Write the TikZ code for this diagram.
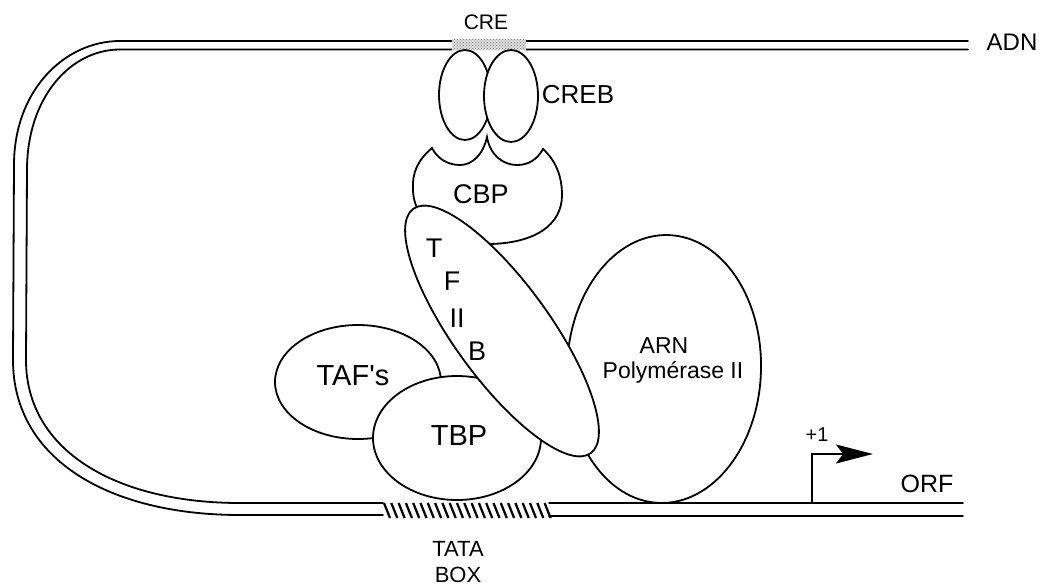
\documentclass[tikz,border=0pt]{standalone}
\usepackage{fontspec}
\setmainfont{Liberation Sans}
\usetikzlibrary{arrows.meta,patterns}
\begin{document}
\begin{tikzpicture}[x=1pt,y=-1pt,
  strand/.style={line width=1.8pt,line cap=round},
  blob/.style={line width=1.8pt,fill=white},
  hatchline/.style={line width=2.3pt},
  lbl/.style={inner sep=0pt,anchor=base,font=\fontsize{#1}{#1}\selectfont},
  lbl/.default=26]
\useasboundingbox (0,0) rectangle (1047,587);

% --- DNA double strand, looping from the top round to the bottom ---
\draw[strand] (968,41) -- (120,41) .. controls (65,41) and (14,90) .. (14,165)
  -- (13,360) .. controls (13,460) and (110,515) .. (240,515) -- (383,515);
\draw[strand] (968,49.5) -- (120,49.5) .. controls (70,49.5) and (27,98) .. (27,170)
  -- (26,360) .. controls (26,450) and (115,503) .. (240,503) -- (383,503);
\draw[strand] (549,503) -- (963,503);
\draw[strand] (549,516) -- (963,516);

% CRE element (stippled)
\fill[white] (452,37) rectangle (526,53);
\fill[gray!25] (452,39) rectangle (526,50);
\fill[pattern=crosshatch dots,pattern color=black!55] (452,39) rectangle (526,50);

% TATA box (hatched)
\foreach \i in {0,...,22} {
  \draw[hatchline] ({384+7.3*\i},503) -- ({390+7.3*\i},518);
}

% --- proteins, from back to front ---
% RNA polymerase II
\draw[blob,rotate around={-2:(664,369)}] (664,369) ellipse (97 and 134);
% TAF's
\draw[blob] (358,382) ellipse (83 and 57);
% TBP
\draw[blob] (457,438) ellipse (84 and 62);
% CBP with its scalloped top
\draw[blob] (432,148) .. controls (418,160) and (412,172) .. (413,190)
  .. controls (414,225) and (450,245) .. (490,244)
  .. controls (535,243) and (562,225) .. (562,195)
  .. controls (562,175) and (555,160) .. (543,149)
  .. controls (537,160) and (528,165) .. (517,165)
  .. controls (503,165) and (490,155) .. (487,137)
  .. controls (483,155) and (472,165) .. (460,165)
  .. controls (447,165) and (437,158) .. (432,148) -- cycle;
% TFIIB
\draw[blob,rotate around={-54:(502,331)}] (502,331) ellipse (151 and 48);
% CREB dimer
\draw[blob] (465,95) ellipse (26 and 45);
\draw[blob] (511,96) ellipse (27 and 46);

% transcription start site +1
\coordinate (tss) at (812,503);
\coordinate (tssturn) at (812,454);
\coordinate (tsshead) at (873,454);
\draw[line width=1.7pt,-{Stealth[length=37pt,width=19pt,inset=7pt]}]
  (tss) -- (tssturn) -- (tsshead);

% --- labels ---
\node[lbl=21] (cre) at (486,29) {CRE};
\node[lbl=24] (adn) at (1012,50) {ADN};
\node[lbl=26] (creb) at (578,103) {CREB};
\node[lbl=27] (cbp) at (481,203) {CBP};
\node[lbl=27] (tfT) at (434,257) {T};
\node[lbl=27] (tfF) at (452,290) {F};
\node[lbl=27] (tfII) at (457,327) {II};
\node[lbl=27] (tfB) at (477,360) {B};
\node[lbl=29] (tafs) at (353,385) {TAF\textquotesingle s};
\node[lbl=29] (tbp) at (459,445) {TBP};
\node[lbl=23] (arn) at (664,353) {ARN};
\node[lbl=23] (pol) at (673,378) {Polymérase II};
\node[lbl=20] (plus) at (817,441) {+1};
\node[lbl=25] (orf) at (927,492) {ORF};
\node[lbl=22] (tata) at (458,556) {TATA};
\node[lbl=22] (box) at (458,582) {BOX};
\end{tikzpicture}
\end{document}
